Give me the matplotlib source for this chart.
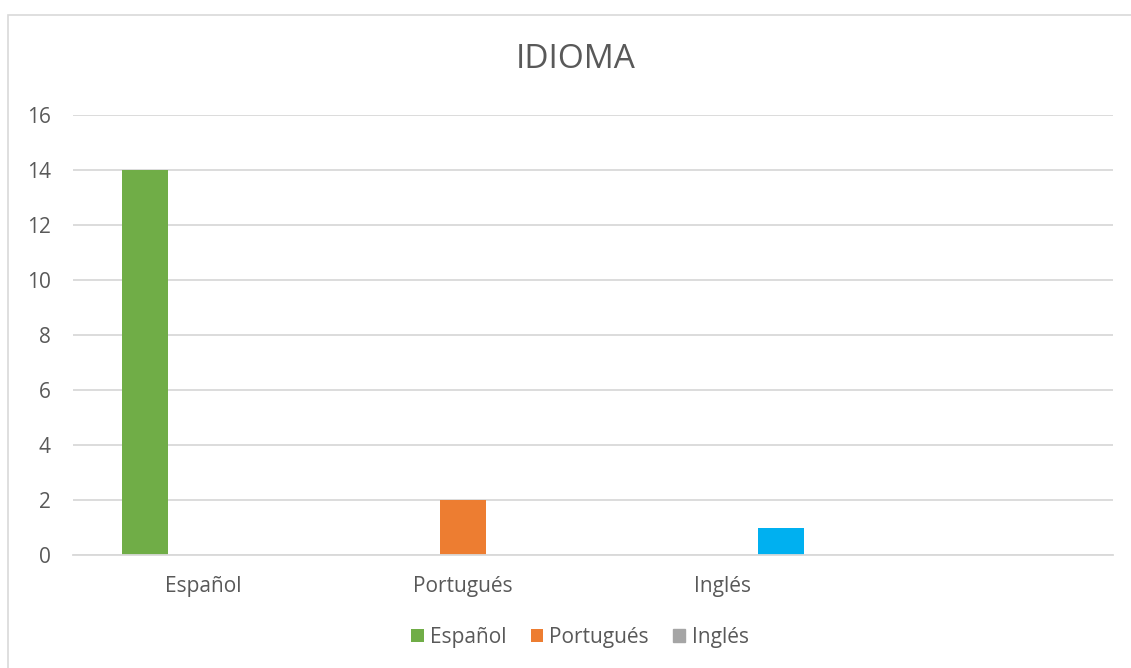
import numpy as np
import matplotlib.pyplot as plt
from matplotlib.patches import Rectangle

plt.rcParams['font.family'] = ['Open Sans', 'DejaVu Sans']

categories = ["Español", "Portugués", "Inglés", ""]
series_names = ["Español", "Portugués", "Inglés"]
espanol = [14, np.nan, np.nan, np.nan]
portugues = [np.nan, 2, np.nan, np.nan]
ingles = [np.nan, np.nan, 1, np.nan]

text_color = "#595959"
grid_color = "#D9D9D9"

fig = plt.figure(figsize=(11.31, 6.68), dpi=100)
fig.patches.append(Rectangle((8 / 1131, -0.1), 1.2, (668 - 15) / 668 + 0.1,
                             transform=fig.transFigure, fill=False,
                             edgecolor=grid_color, linewidth=1.2))
ax = fig.add_axes([73 / 1131, (668 - 555) / 668, 1040 / 1131, 440 / 668])

x = np.arange(len(categories))
w = 0.177
off = 0.223
ax.bar(x - off, espanol, w, color="#70AD47", label=series_names[0])
ax.bar(x, portugues, w, color="#ED7D31", label=series_names[1])
ax.bar(x + off, ingles, w, color="#00B0F0", label=series_names[2])
# Excel shows the legend swatch of the third series in gray
handles, labels = ax.get_legend_handles_labels()
handles[2] = Rectangle((0, 0), 1, 1, color="#A5A5A5")

ax.set_xlim(-0.5, len(categories) - 0.5)
ax.set_ylim(0, 16)
ax.set_yticks(range(0, 17, 2))
ax.set_xticks(x)
ax.set_xticklabels(categories)
ax.yaxis.grid(True, color=grid_color, linewidth=1.3)
ax.set_axisbelow(True)
for s in ["top", "right", "left"]:
    ax.spines[s].set_visible(False)
ax.spines["bottom"].set_color(grid_color)
ax.spines["bottom"].set_linewidth(1.3)
ax.tick_params(length=0, labelsize=15, colors=text_color)
ax.tick_params(axis="y", pad=16)
ax.tick_params(axis="x", pad=15)

fig.text(576 / 1131, (668 - 60) / 668, "IDIOMA", ha="center", va="center",
         fontsize=24, color=text_color)
fig.legend(handles, labels, loc="center", bbox_to_anchor=(580 / 1131, (668 - 637) / 668),
           ncol=3, frameon=False, fontsize=15, labelcolor=text_color,
           handlelength=0.6, handleheight=0.6, handletextpad=0.3, columnspacing=1.15)

fig.savefig("out.png", dpi=100)
